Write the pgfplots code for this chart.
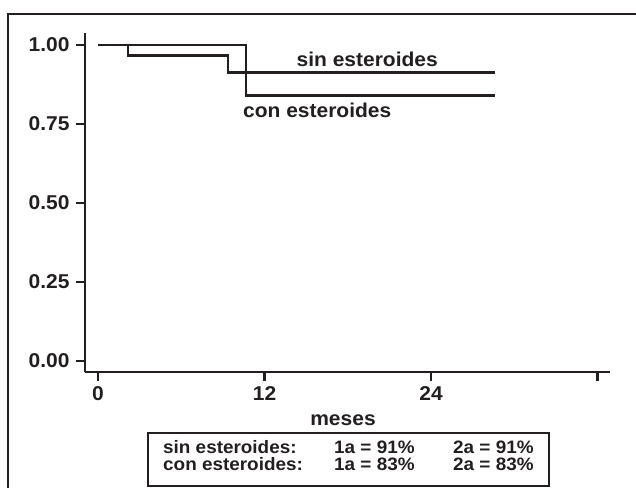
\documentclass[border=0pt]{standalone}
\usepackage{pgfplots}
\pgfplotsset{compat=1.18}
\usepackage{fontspec}
\setmainfont{Liberation Sans}[FakeStretch=1.05]
\definecolor{ink}{RGB}{35,31,32}
\begin{document}
\begin{tikzpicture}
\path[use as bounding box] (0pt,0pt) rectangle (636pt,-487pt);
\draw[ink,line width=2.8pt] (8pt,-488pt) -- (8pt,-14pt) -- (637pt,-14pt);
\begin{axis}[
  at={(85pt,-372pt)}, anchor=south west,
  scale only axis, width=525pt, height=339pt,
  xmin=-0.94, xmax=36.9, ymin=-0.035, ymax=1.038,
  axis x line*=bottom, axis y line*=left,
  axis line style={-, line width=2.8pt, ink},
  tick align=outside, major tick length=9pt,
  every tick/.style={line width=2.8pt, ink},
  xtick={0,12,24,36}, xticklabels={0,12,24,},
  ytick={0,0.25,0.5,0.75,1}, yticklabels={0.00,0.25,0.50,0.75,1.00},
  /pgf/number format/assume math mode=true,
  tick label style={font=\bfseries\fontsize{20}{23}\selectfont, text=ink},
  yticklabel style={xshift=-3pt},
  xticklabel style={yshift=-2pt},
  clip=false,
]
\addplot[const plot, ink, line width=2.8pt] coordinates {(0,1) (2.16,0.968) (9.37,0.912) (28.6,0.912)};
\addplot[const plot, ink, line width=2.8pt] coordinates {(0,1) (10.67,0.839) (28.6,0.839)};
\node[font=\bfseries\fontsize{20}{23}\selectfont, text=ink] at (axis cs:19.4,0.956) {sin esteroides};
\node[font=\bfseries\fontsize{20}{23}\selectfont, text=ink] at (axis cs:15.8,0.794) {con esteroides};
\end{axis}
\node[font=\bfseries\fontsize{20}{23}\selectfont, text=ink, anchor=base] at (343pt,-425pt) {meses};
\draw[ink,line width=1.5pt] (148pt,-433pt) rectangle (549pt,-486pt);
\begin{scope}[every node/.style={font=\bfseries\fontsize{18}{20}\selectfont, text=ink, anchor=base west, inner sep=0pt}]
\node at (163pt,-453pt) {sin esteroides:};
\node at (334pt,-453pt) {1a = 91\%};
\node at (453pt,-453pt) {2a = 91\%};
\node at (163pt,-470pt) {con esteroides:};
\node at (334pt,-470pt) {1a = 83\%};
\node at (453pt,-470pt) {2a = 83\%};
\end{scope}
\end{tikzpicture}
\end{document}
